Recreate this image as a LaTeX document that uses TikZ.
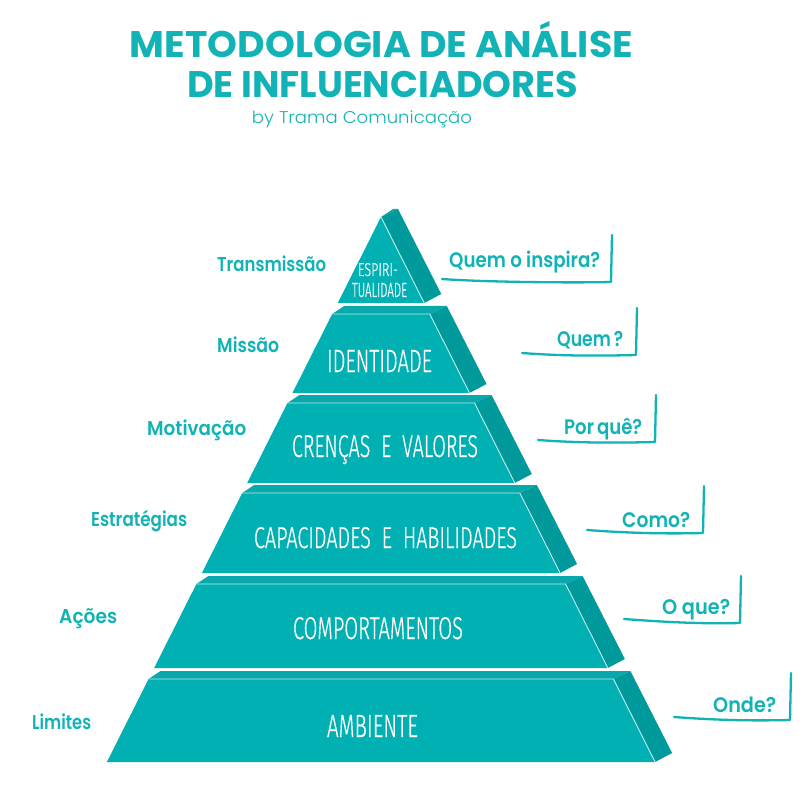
\documentclass[tikz,border=0pt]{standalone}
\usepackage{fontspec}
\usepackage{graphicx}
\newfontfamily\popbold{Poppins}[UprightFont={* Bold}]
\newfontfamily\popmed{Poppins}[UprightFont={* SemiBold}]
\newfontfamily\poplight{Poppins}[UprightFont={* Light}]
\newfontfamily\pyrfont{Fira Sans}[UprightFont={* Light}, UprightFeatures={FakeBold=0.6}]
\definecolor{tealfront}{HTML}{00B0B3}
\definecolor{tealside}{HTML}{009A9C}
\definecolor{tealtop}{HTML}{08A9AC}
\definecolor{ink}{HTML}{12B3B6}
\newcommand{\fitw}[2]{\resizebox{#1}{\height}{#2}}
\newcommand{\fitwh}[3]{\resizebox{#1}{#2}{#3}}
\newcommand{\wsp}{\hspace{0.55em}}
\tikzset{
  titletext/.style={inner sep=0pt, anchor=base, text=ink, font=\popbold\fontsize{37}{37}\selectfont},
  subtext/.style={inner sep=0pt, anchor=base, text=ink, font=\poplight\fontsize{17}{17}\selectfont},
  lefttext/.style={inner sep=0pt, anchor=base west, text=ink, font=\popmed\fontsize{20}{20}\selectfont},
  righttext/.style={inner sep=0pt, anchor=base west, text=ink, font=\popmed\fontsize{21}{21}\selectfont},
  pyrtext/.style={inner sep=0pt, anchor=base, text=white, font=\pyrfont\fontsize{30}{30}\selectfont},
  brk/.style={draw=ink, line width=2.3pt, line cap=round, line join=round},
  edgeline/.style={draw=white, line width=0.9pt, opacity=0.75, line join=round}
}
\begin{document}
\begin{tikzpicture}[x=1pt,y=-1pt]
\fill[white] (0,0) rectangle (806,802);
\useasboundingbox (0,0) rectangle (806,802);

% pyramid tiers
\foreach \yt/\yb [evaluate=\yt as \ht using {0.503*(\yt-217)}, evaluate=\yb as \hb using {0.503*(\yb-217)}] in {217/303, 314/393, 403/483, 493/573, 584/668, 679/762}{
  \fill[tealtop] ({381-\ht},\yt) -- ({381-\ht+12},{\yt-8}) -- ({381+\ht+17},{\yt-8}) -- ({381+\ht},\yt) -- cycle;
  \fill[tealside] ({381+\ht},\yt) -- ({381+\ht+17},{\yt-8}) -- ({381+\hb+17},{\yb-9}) -- ({381+\hb},\yb) -- cycle;
  \fill[tealfront] ({381-\ht},\yt) -- ({381+\ht},\yt) -- ({381+\hb},\yb) -- ({381-\hb},\yb) -- cycle;
  \draw[edgeline] ({381-\ht},\yt) -- ({381+\ht},\yt) -- ({381+\hb},\yb);
}

% title
\node[titletext] (title1) at (381.5,58) {\fitw{503pt}{METODOLOGIA DE ANÁLISE}};
\node[titletext] (title2) at (382.5,98) {\fitw{391pt}{DE INFLUENCIADORES}};
\node[subtext] (sub) at (362,124) {\fitw{220pt}{by Trama Comunicação}};

% pyramid texts
\node[pyrtext] (espA) at (378,276) {\fitwh{40pt}{13pt}{ESPIRI-}};
\node[pyrtext] (espB) at (379.5,297) {\fitwh{55pt}{14pt}{TUALIDADE}};
\node[pyrtext] (ident) at (379.5,372) {\fitwh{105pt}{22pt}{IDENTIDADE}};
\node[pyrtext] (cren) at (385,457) {\fitwh{186pt}{22pt}{CRENÇAS\wsp E\wsp VALORES}};
\node[pyrtext] (capa) at (385.5,548) {\fitwh{263pt}{21pt}{CAPACIDADES\wsp E\wsp HABILIDADES}};
\node[pyrtext] (comp) at (378,639) {\fitwh{170pt}{22pt}{COMPORTAMENTOS}};
\node[pyrtext] (amb) at (372.5,737) {\fitwh{91pt}{22pt}{AMBIENTE}};

% left labels
\node[lefttext] (transm) at (217,272) {\fitw{109pt}{Transmissão}};
\node[lefttext] (missao) at (217,353) {\fitw{62pt}{Missão}};
\node[lefttext] (motiv) at (147,435) {\fitw{99pt}{Motivação}};
\node[lefttext] (estrat) at (91,526) {\fitw{96pt}{Estratégias}};
\node[lefttext] (acoes) at (59,623) {\fitw{58pt}{Ações}};
\node[lefttext] (limit) at (32,729) {\fitw{59pt}{Limites}};

% right labels
\node[righttext] (qinsp) at (449,268) {\fitw{151pt}{Quem o inspira?}};
\node[righttext] (quem) at (557,346) {\fitw{66pt}{Quem\,?}};
\node[righttext] (porq) at (564,434) {\fitw{78pt}{Por\,quê?}};
\node[righttext] (como) at (622,527) {\fitw{68pt}{Como?}};
\node[righttext] (oque) at (662,614) {\fitw{68pt}{O que?}};
\node[righttext] (onde) at (713,712) {\fitw{63pt}{Onde?}};

% bracket points
\coordinate (b1s) at (442,279); \coordinate (b1c) at (611,282); \coordinate (b1t) at (612,235);
\coordinate (b2s) at (522,353); \coordinate (b2c) at (636,355); \coordinate (b2t) at (637,308);
\coordinate (b3s) at (538,440); \coordinate (b3c) at (655,442); \coordinate (b3t) at (656,395);
\coordinate (b4s) at (587,530); \coordinate (b4c) at (703,533); \coordinate (b4t) at (704,486);
\coordinate (b5s) at (624,619); \coordinate (b5c) at (740,623); \coordinate (b5t) at (741,576);
\coordinate (b6s) at (674,717); \coordinate (b6c) at (790,720); \coordinate (b6t) at (791,673);
\foreach \i in {1,...,6}{
  \draw[brk] (b\i s) .. controls +(40,3) and +(-40,1) .. (b\i c) -- (b\i t);
}
\end{tikzpicture}
\end{document}
